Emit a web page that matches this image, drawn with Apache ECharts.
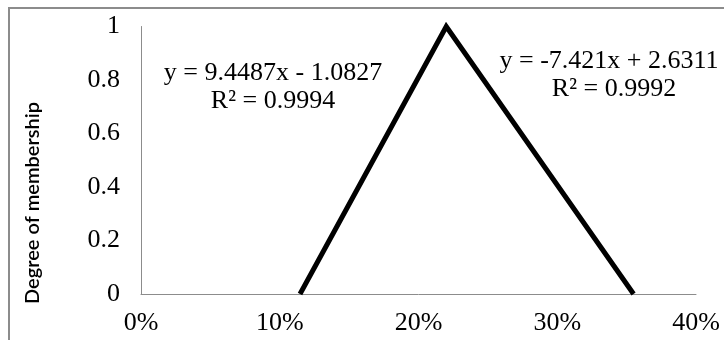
<!DOCTYPE html>
<html>
<head>
<meta charset="utf-8">
<script src="https://cdn.jsdelivr.net/npm/echarts@6/dist/echarts.min.js"></script>
<style>html,body{margin:0;padding:0;background:#fff}#c{width:724px;height:340px}</style>
</head>
<body>
<div id="c"></div>
<script>
// Data
const xValues = [0.1146, 0.2200, 0.3550];
const yValues = [0, 1, 0];
const xTicks = [0, 0.1, 0.2, 0.3, 0.4];
const yTicks = [0, 0.2, 0.4, 0.6, 0.8, 1];
const yTitle = 'Degree of membership';
const eqLeft = ['y = 9.4487x - 1.0827', 'R² = 0.9994'];
const eqRight = ['y = -7.421x + 2.6311', 'R² = 0.9992'];

const chart = echarts.init(document.getElementById('c'), null, {renderer: 'canvas'});
const serif = 'Liberation Serif';
chart.setOption({
  animation: false,
  backgroundColor: '#fff',
  grid: {left: 141, right: 28, top: 26.5, bottom: 46, containLabel: false},
  xAxis: {
    type: 'value', min: xTicks[0], max: xTicks[xTicks.length - 1], interval: 0.1,
    axisLine: {show: true, lineStyle: {color: '#8c8c8c', width: 1}},
    axisTick: {show: false},
    splitLine: {show: false},
    axisLabel: {
      color: '#000', fontFamily: serif, fontSize: 26, margin: 16,
      formatter: v => Math.round(v * 100) + '%'
    }
  },
  yAxis: {
    type: 'value', min: yTicks[0], max: yTicks[yTicks.length - 1], interval: 0.2,
    axisLine: {show: true, lineStyle: {color: '#8c8c8c', width: 1}},
    axisTick: {show: false},
    splitLine: {show: false},
    axisLabel: {
      color: '#000', fontFamily: serif, fontSize: 26, margin: 21,
      formatter: v => String(Math.round(v * 10) / 10)
    }
  },
  series: [{
    type: 'line',
    data: xValues.map((x, i) => [x, yValues[i]]),
    showSymbol: false,
    lineStyle: {color: '#000', width: 5, join: 'miter'},
    clip: false
  }],
  graphic: [
    {type: 'rect', shape: {x: 9, y: 8, width: 900, height: 500}, style: {fill: 'none', stroke: '#8c8c8c', lineWidth: 2}, silent: true},
    {type: 'text', x: 33, y: 203, rotation: Math.PI / 2,
      style: {text: yTitle, font: '600 20px Lato', fill: '#000', textAlign: 'center', textVerticalAlign: 'middle'}},
    {type: 'text', x: 273, y: 73, style: {text: eqLeft[0], font: '26px "Liberation Serif"', fill: '#000', textAlign: 'center', textVerticalAlign: 'middle'}},
    {type: 'text', x: 273, y: 101, style: {text: eqLeft[1], font: '26px "Liberation Serif"', fill: '#000', textAlign: 'center', textVerticalAlign: 'middle'}},
    {type: 'text', x: 609, y: 61, style: {text: eqRight[0], font: '26px "Liberation Serif"', fill: '#000', textAlign: 'center', textVerticalAlign: 'middle'}},
    {type: 'text', x: 614, y: 89, style: {text: eqRight[1], font: '26px "Liberation Serif"', fill: '#000', textAlign: 'center', textVerticalAlign: 'middle'}}
  ]
});
</script>
</body>
</html>
